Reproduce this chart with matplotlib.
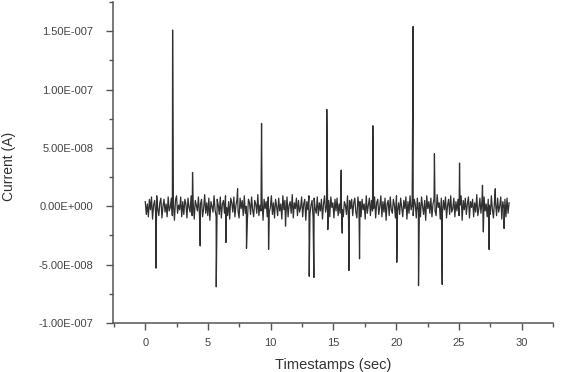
import numpy as np
import matplotlib.pyplot as plt
from matplotlib.ticker import MultipleLocator, FuncFormatter

plt.rcParams['font.family'] = ['Liberation Sans', 'DejaVu Sans']

# background noise (nA), evenly spaced from 0 to 29 s
noise = [4, -7, 2, -9, 6, -3, 8, -11, 1, 5, -6, 9, -2, -8, 3, 7, -10, 0, 6, -5, 2, -9, 8, -4, -1,
         7, -8, 3, -12, 5, 9, -6, 1, -3, 8, -9, 4, -7, 6, 2, -10, 7, -1, -5, 9, -8, 3, -11, 5, 1,
         -4, 8, -7, 2, 6, -9, -2, 10, -6, 3, -8, 7, -12, 4, 0, -5, 9, -3, -9, 6, 1, -7, 8, -10, 2,
         5, -6, 9, -1, -8, 4, -11, 7, 3, -5, 8, -9, 1, 6, -4, -10, 7, -2, 5, -8, 9, -6, 0, -11, 6,
         3, -7, 8, -3, -9, 5, 2, -6, 10, -8, 1, -4, 7, -12, 6, -2, 4, -9, 8, -5, -1, 9, -7, 3, -10,
         6, 0, -8, 7, -4, 2, -11, 9, -3, 5, -7, 8, -9, 1, 4, -6, 10, -10, 3, -2, 7, -8, 5, -5, -1,
         8, -9, 2, 6, -12, 4, -3, 9, -7, 1, 5, -10, 7, -2, -6, 8, -8, 3, -4, 6, -11, 2, 9, -5, 0,
         -7, 5, -9, 8, -1, 3, -10, 6, -4, 7, -8, 2, -6, 10, -3, -9, 4, 1, -7, 9, -12, 5, -2, 6, -8,
         3, 7, -5, -10, 8, -1, 4, -9, 6, -3, 2, -11, 9, -6, 1, 7, -8, 5, -4, -2, 8, -10, 3, 6, -7,
         0, 9, -9, 4, -5, 7, -12, 2, 5, -8, 8, -3, -6, 6, 1, -10, 9, -4, 3, -7, 7, -1, -9, 5, -2,
         8, -11, 4, -6, 9, -3, 1, -8, 6, 2, -10, 7, -5, 3, -9, 8, 0, -7, 5, -12, 9, -2, 4, -6, 7,
         -9, 2, 6, -4, -8, 10, -1, 3, -11, 7, -6, 5, -3, 8, -10, 1, 6, -7, 9, -5, -2, 7, -9, 4, -4,
         6, -8, 1, 9, -12, 5, -3, 7, -7, 2, 8, -10, 4, -1, 6, -9, 3, -5, 10, -8, -2, 7, -6, 5, -11,
         8, -4, 2, -9, 6, 1, -7, 9, -3, -10, 5, 3, -8, 7, -5, 0, 8, -11, 4, -2, 6, -9, 7, -6, 3]

# spikes (time in s, current in nA)
spike_t = [0.85, 2.18, 3.77, 4.38, 5.66, 6.43, 7.36, 8.07, 9.27, 9.83, 11.18,
           13.07, 13.44, 14.47, 14.55, 15.62, 15.70, 16.23, 17.08, 18.14, 20.05,
           21.35, 21.78, 23.05, 23.67, 25.05, 26.88, 26.95, 27.41, 27.90, 28.60]
spike_v = [-53, 151, 29, -34, -69, -31, 15, -36, 71, -37, -17,
           -60, -61, 83, -20, 31, -23, -55, -45, 69, -48,
           154, -68, 45, -67, 37, 18, -22, -37, 15, -19]

t_noise = np.linspace(0, 29, len(noise))
t = np.concatenate([t_noise, spike_t])
v = np.concatenate([noise, spike_v]) * 1e-9
order = np.argsort(t, kind='stable')
t, v = t[order], v[order]

fig = plt.figure(figsize=(5.61, 3.72), dpi=100)
ax = fig.add_axes([113 / 561, 49 / 372, 440 / 561, 321 / 372])

ax.plot(t, v, color='#303030', lw=0.9)

ax.set_xlim(-2.57, 32.5)
ax.set_ylim(-1.0e-7, 1.75e-7)

ax.xaxis.set_major_locator(MultipleLocator(5))
ax.xaxis.set_minor_locator(MultipleLocator(2.5))
ax.yaxis.set_major_locator(MultipleLocator(5e-8))
ax.yaxis.set_minor_locator(MultipleLocator(2.5e-8))


def sci(val, pos):
    if abs(val) < 1e-20:
        return '0.00E+000'
    e = int(np.floor(np.log10(abs(val))))
    m = val / 10 ** e
    sign = '+' if e >= 0 else '-'
    return f'{m:.2f}E{sign}{abs(e):03d}'


ax.yaxis.set_major_formatter(FuncFormatter(sci))

for s in ['top', 'right']:
    ax.spines[s].set_visible(False)
for s in ['left', 'bottom']:
    ax.spines[s].set_color('#555555')
    ax.spines[s].set_linewidth(1.1)

ax.tick_params(which='major', length=5, width=1, color='#555555',
               labelsize=8, labelcolor='#444444')
ax.tick_params(axis='y', which='major', pad=9)
ax.tick_params(axis='x', which='major', pad=6)
ax.tick_params(which='minor', length=3, width=1, color='#555555')

fig.text(333 / 561, 1 - 365 / 372, 'Timestamps (sec)', fontsize=10.5,
         color='#333333', ha='center', va='center')
fig.text(9 / 561, 1 - 166 / 372, 'Current (A)', fontsize=10, rotation=90,
         color='#333333', ha='center', va='center')

fig.savefig('out.png', dpi=100)
